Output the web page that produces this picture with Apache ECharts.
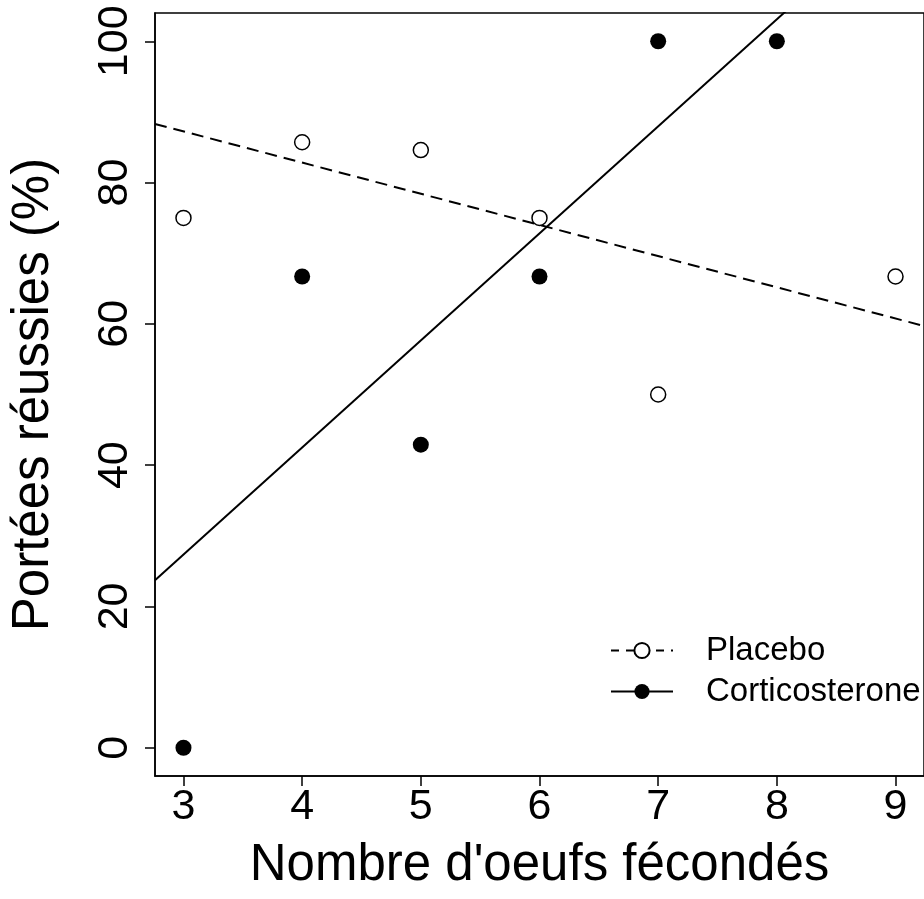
<!DOCTYPE html>
<html>
<head>
<meta charset="utf-8">
<script src="https://cdn.jsdelivr.net/npm/echarts@6/dist/echarts.min.js"></script>
<style>
  html, body { margin: 0; padding: 0; background: #fff; }
  #chart { width: 924px; height: 899px; }
</style>
</head>
<body>
<div id="chart"></div>
<script>
// Number of fertilised eggs per clutch (x) and successful broods in % (y)
const placeboX = [3, 4, 5, 6, 7, 9];
const placeboY = [75, 85.7, 84.6, 75, 50, 66.7];
const corticoX = [3, 4, 5, 6, 7, 8];
const corticoY = [0, 66.7, 42.9, 66.7, 100, 100];

// Fitted trend lines, evaluated at both ends of the x range
const fitX = [2.76, 9.24];
const placeboFitY = [88.3, 59.7];
const corticoFitY = [23.7, 121.9];

const xTicks = [3, 4, 5, 6, 7, 8, 9];
const yTicks = [0, 20, 40, 60, 80, 100];

const FONT = '"Liberation Sans", Arial, Helvetica, sans-serif';

const zip = (xs, ys) => xs.map((x, i) => [x, ys[i]]);

const chart = echarts.init(document.getElementById('chart'), null, { renderer: 'canvas' });

chart.setOption({
  animation: false,
  backgroundColor: '#ffffff',
  textStyle: { fontFamily: FONT, color: '#000' },
  grid: {
    left: 155, top: 13, width: 773, height: 763,
    show: true, borderColor: '#000', borderWidth: 1.5, backgroundColor: 'transparent'
  },
  legend: {
    orient: 'vertical',
    left: 610, top: 634,
    padding: 0,
    itemWidth: 62, itemHeight: 19, itemGap: 8,
    textStyle: { fontFamily: FONT, fontSize: 33, color: '#000', lineHeight: 33, padding: [0, 0, 0, 28] },
    data: [
      { name: 'Placebo', lineStyle: { type: [8, 7], width: 2 } },
      { name: 'Corticosterone' }
    ]
  },
  xAxis: {
    type: 'value',
    min: 2.76, max: 9.24,
    name: "Nombre d'oeufs fécondés",
    nameLocation: 'middle',
    nameGap: 64,
    nameTextStyle: { fontFamily: FONT, fontSize: 51, color: '#000', lineHeight: 51 },
    splitLine: { show: false },
    axisLine: { show: true, onZero: false, lineStyle: { color: '#000', width: 1.5 } },
    axisTick: { show: true, length: 10, lineStyle: { color: '#000', width: 1.5 }, customValues: xTicks },
    axisLabel: {
      fontFamily: FONT, fontSize: 43, color: '#000', margin: 10,
      customValues: xTicks, formatter: v => String(v)
    }
  },
  yAxis: {
    type: 'value',
    min: -4, max: 104,
    name: 'Portées réussies (%)',
    nameLocation: 'middle',
    nameRotate: 90,
    nameGap: 96,
    nameTextStyle: { fontFamily: FONT, fontSize: 51, color: '#000', lineHeight: 51 },
    splitLine: { show: false },
    axisLine: { show: true, onZero: false, lineStyle: { color: '#000', width: 1.5 } },
    axisTick: { show: true, length: 10, lineStyle: { color: '#000', width: 1.5 }, customValues: yTicks },
    axisLabel: {
      fontFamily: FONT, fontSize: 43, color: '#000', margin: 18, rotate: 90,
      customValues: yTicks, formatter: v => String(v)
    }
  },
  series: [
    {
      name: 'Placebo',
      type: 'line',
      data: zip(fitX, placeboFitY),
      symbol: 'emptyCircle',
      showSymbol: false,
      clip: true,
      lineStyle: { color: '#000', width: 2, type: [12, 7] },
      itemStyle: { color: '#000', borderColor: '#000', borderWidth: 1.5 },
      emphasis: { disabled: true },
      z: 2
    },
    {
      name: 'Corticosterone',
      type: 'line',
      data: zip(fitX, corticoFitY),
      symbol: 'circle',
      showSymbol: false,
      clip: true,
      lineStyle: { color: '#000', width: 2, type: 'solid' },
      itemStyle: { color: '#000' },
      emphasis: { disabled: true },
      z: 2
    },
    {
      name: 'Placebo points',
      type: 'scatter',
      data: zip(placeboX, placeboY),
      symbol: 'circle',
      symbolSize: 15,
      itemStyle: { color: '#fff', borderColor: '#000', borderWidth: 1.5, opacity: 1 },
      emphasis: { disabled: true },
      z: 3
    },
    {
      name: 'Corticosterone points',
      type: 'scatter',
      data: zip(corticoX, corticoY),
      symbol: 'circle',
      symbolSize: 16,
      itemStyle: { color: '#000', opacity: 1 },
      emphasis: { disabled: true },
      z: 3
    }
  ]
});
</script>
</body>
</html>
